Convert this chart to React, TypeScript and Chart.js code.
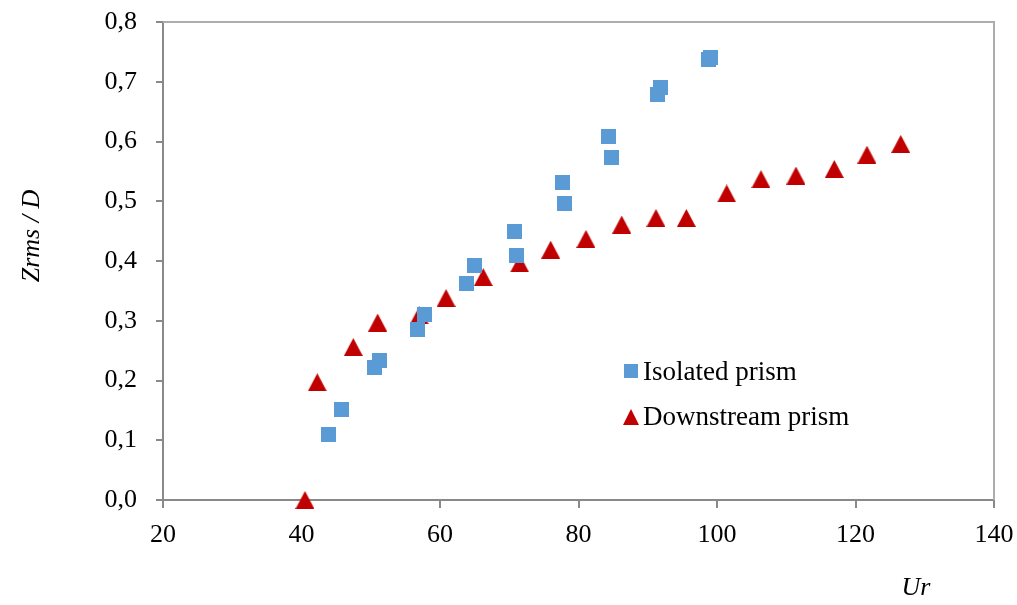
import React, { useEffect, useRef } from "react";
import { Chart, registerables } from "chart.js";

Chart.register(...registerables);

const isolatedUr = [43.97, 45.8, 50.47, 51.23, 56.82, 57.83, 63.86, 64.91, 70.69, 71.08, 77.72, 78.0, 84.4, 84.8, 91.44, 91.8, 98.77, 99.13];
const isolatedZ = [0.110, 0.151, 0.222, 0.233, 0.286, 0.310, 0.362, 0.392, 0.450, 0.409, 0.532, 0.497, 0.608, 0.573, 0.678, 0.690, 0.737, 0.741];

const downstreamUr = [40.5, 42.28, 47.48, 51.0, 57.0, 60.87, 66.25, 71.5, 75.98, 81.08, 86.24, 91.19, 95.57, 101.4, 106.35, 111.4, 116.94, 121.66, 126.53];
const downstreamZ = [0.0, 0.197, 0.256, 0.297, 0.309, 0.338, 0.373, 0.396, 0.419, 0.437, 0.461, 0.472, 0.472, 0.513, 0.537, 0.543, 0.554, 0.578, 0.596];

const seriesNames = ["Isolated prism", "Downstream prism"];
const xTitle = "Ur";
const yTitle = "Zrms / D";

const BLUE = "#5B9BD5";
const RED = "#C00000";
const FONT = "'Liberation Serif', 'Times New Roman', serif";

function makeSquare(size: number, color: string) {
  const c = document.createElement("canvas");
  c.width = size;
  c.height = size;
  const ctx = c.getContext("2d")!;
  ctx.fillStyle = color;
  ctx.fillRect(0, 0, size, size);
  return c;
}

function makeTriangle(w: number, h: number, color: string) {
  const c = document.createElement("canvas");
  c.width = w;
  c.height = h;
  const ctx = c.getContext("2d")!;
  ctx.fillStyle = color;
  ctx.beginPath();
  ctx.moveTo(0, h);
  ctx.lineTo(w / 2, 0);
  ctx.lineTo(w, h);
  ctx.closePath();
  ctx.fill();
  return c;
}

export default function App() {
  const ref = useRef<HTMLCanvasElement>(null);

  useEffect(() => {
    const square = makeSquare(15, BLUE);
    const tri = makeTriangle(19, 18, RED);
    const legendSquare = makeSquare(14, BLUE);
    const legendTri = makeTriangle(16, 16, RED);

    const decorPlugin = {
      id: "decor",
      beforeDatasetsDraw(chart: any) {
        const { ctx, chartArea } = chart;
        ctx.save();
        ctx.strokeStyle = "#ADADAD";
        ctx.lineWidth = 2;
        ctx.beginPath();
        ctx.moveTo(chartArea.left, chartArea.top);
        ctx.lineTo(chartArea.right, chartArea.top);
        ctx.lineTo(chartArea.right, chartArea.bottom);
        ctx.stroke();
        ctx.restore();
      },
      afterDraw(chart: any) {
        const { ctx, chartArea } = chart;
        ctx.save();
        ctx.fillStyle = "#000";
        ctx.font = `italic 26px ${FONT}`;
        ctx.textAlign = "center";
        ctx.textBaseline = "middle";
        ctx.fillText(xTitle, chartArea.right - 78, chartArea.bottom + 88);
        ctx.save();
        ctx.translate(chartArea.left - 131, chartArea.top + 214);
        ctx.rotate(-Math.PI / 2);
        ctx.fillText(yTitle, 0, 0);
        ctx.restore();
        const lx = chartArea.left + 468;
        const ly1 = chartArea.top + 349;
        const ly2 = chartArea.top + 395;
        ctx.drawImage(legendSquare, lx - 7, ly1 - 7);
        ctx.drawImage(legendTri, lx - 8, ly2 - 8);
        ctx.font = `27px ${FONT}`;
        ctx.textAlign = "left";
        ctx.fillText(seriesNames[0], lx + 12, ly1 + 2);
        ctx.fillText(seriesNames[1], lx + 12, ly2 + 1);
        ctx.restore();
      },
    };

    const chart = new Chart(ref.current!, {
      type: "scatter",
      data: {
        datasets: [
          {
            label: seriesNames[0],
            data: isolatedUr.map((x, i) => ({ x, y: isolatedZ[i] })),
            pointStyle: square as any,
            backgroundColor: BLUE,
            borderColor: BLUE,
            clip: false as any,
          },
          {
            label: seriesNames[1],
            data: downstreamUr.map((x, i) => ({ x, y: downstreamZ[i] })),
            pointStyle: tri as any,
            backgroundColor: RED,
            borderColor: RED,
            clip: false as any,
          },
        ],
      },
      options: {
        animation: false,
        responsive: false,
        devicePixelRatio: 1,
        layout: { padding: { top: 22, right: 23, left: 0, bottom: 0 } },
        plugins: { legend: { display: false }, tooltip: { enabled: false } },
        scales: {
          x: {
            type: "linear",
            min: 20,
            max: 140,
            afterFit: (s: any) => {
              s.height = 105;
              s.paddingLeft = 0;
              s.paddingRight = 0;
            },
            ticks: {
              stepSize: 20,
              padding: 12,
              color: "#000",
              font: { family: FONT, size: 26 },
              maxRotation: 0,
            },
            grid: {
              display: true,
              drawOnChartArea: false,
              drawTicks: true,
              tickLength: 8,
              color: "#898989",
              lineWidth: 2,
            },
            border: { display: true, color: "#898989", width: 2 },
          },
          y: {
            type: "linear",
            min: 0,
            max: 0.8,
            afterFit: (s: any) => {
              s.width = 163;
              s.paddingTop = 0;
              s.paddingBottom = 0;
            },
            ticks: {
              stepSize: 0.1,
              padding: 19,
              color: "#000",
              font: { family: FONT, size: 26 },
              callback: (v: any) => Number(v).toFixed(1).replace(".", ","),
            },
            grid: {
              display: true,
              drawOnChartArea: false,
              drawTicks: true,
              tickLength: 7,
              color: "#898989",
              lineWidth: 2,
            },
            border: { display: true, color: "#898989", width: 2 },
          },
        },
      },
      plugins: [decorPlugin],
    });
    return () => chart.destroy();
  }, []);

  return (
    <div style={{ position: "absolute", left: 0, top: 0, width: 1017, height: 605, background: "#fff" }}>
      <canvas ref={ref} width={1017} height={605} />
    </div>
  );
}
